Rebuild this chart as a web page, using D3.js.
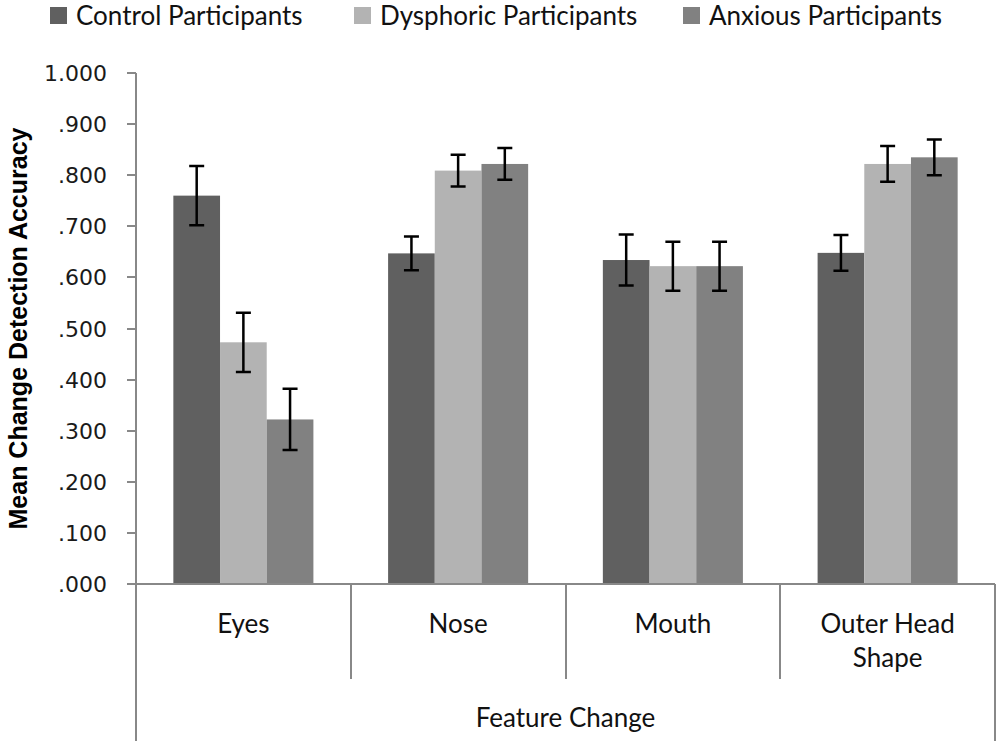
<!DOCTYPE html>
<html lang="en">
<head>
<meta charset="UTF-8">
<title>Mean Change Detection Accuracy</title>
<style>
  body { margin: 0; background: #fff; }
  .tick-label { font: 22px "DejaVu Sans", Verdana, sans-serif; fill: #1a1a1a; }
  .cat-label, .legend-label, .x-title { font: 26px Lato, "Open Sans", sans-serif; fill: #111; }
  .y-title { font: bold 25px "Liberation Sans", Arial, sans-serif; fill: #000; }
  .axis-line { stroke: #888; stroke-width: 2; fill: none; shape-rendering: crispEdges; }
  .err { stroke: #000; stroke-width: 2.5; fill: none; }
</style>
</head>
<body>
<script src="https://d3js.org/d3.v7.min.js"></script>
<script>
// data
var categories = ["Eyes", "Nose", "Mouth", "Outer Head Shape"];
var categoryLines = [["Eyes"], ["Nose"], ["Mouth"], ["Outer Head", "Shape"]];
var seriesNames = ["Control Participants", "Dysphoric Participants", "Anxious Participants"];
var control   = [0.760, 0.647, 0.634, 0.648];
var dysphoric = [0.473, 0.809, 0.622, 0.822];
var anxious   = [0.322, 0.822, 0.622, 0.835];
var controlErr   = [0.058, 0.033, 0.050, 0.035];
var dysphoricErr = [0.058, 0.031, 0.048, 0.035];
var anxiousErr   = [0.060, 0.031, 0.048, 0.035];
var yTicks = [0, 0.1, 0.2, 0.3, 0.4, 0.5, 0.6, 0.7, 0.8, 0.9, 1.0];
var colors = ["#606060", "#b3b3b3", "#818181"];
var xTitle = "Feature Change";
var yTitle = "Mean Change Detection Accuracy";

var values = [control, dysphoric, anxious];
var errs = [controlErr, dysphoricErr, anxiousErr];

var W = 1000, H = 741;
var plotLeft = 136, plotRight = 995, plotTop = 73, plotBottom = 584;

var svg = d3.select("body").append("svg")
  .attr("width", W)
  .attr("height", H);

var x0 = d3.scaleBand().domain(categories).range([plotLeft, plotRight]).padding(0);
var x1 = d3.scaleBand().domain(seriesNames).range([0, x0.bandwidth()])
  .paddingInner(0).paddingOuter(0.8);
var y = d3.scaleLinear().domain([0, 1]).range([plotBottom, plotTop]);

var fmt = function(v) { return d3.format(".3f")(v).replace(/^0/, ""); };

// bars
var groups = svg.selectAll(".grp")
  .data(categories)
  .enter().append("g")
  .attr("class", "grp")
  .attr("transform", function(d) { return "translate(" + x0(d) + ",0)"; });

groups.each(function(cat, ci) {
  var g = d3.select(this);
  seriesNames.forEach(function(s, si) {
    var v = values[si][ci];
    g.append("rect")
      .attr("x", x1(s))
      .attr("y", y(v))
      .attr("width", x1.bandwidth())
      .attr("height", y(0) - y(v))
      .attr("fill", colors[si]);
  });
  seriesNames.forEach(function(s, si) {
    var v = values[si][ci], e = errs[si][ci];
    var cx = x1(s) + x1.bandwidth() / 2;
    g.append("path")
      .attr("class", "err")
      .attr("d", "M" + cx + "," + y(v + e) + "V" + y(v - e)
        + "M" + (cx - 7.5) + "," + y(v + e) + "h15"
        + "M" + (cx - 7.5) + "," + y(v - e) + "h15");
  });
});

// y axis
svg.append("line").attr("class", "axis-line")
  .attr("x1", plotLeft).attr("x2", plotLeft).attr("y1", plotTop).attr("y2", H);
svg.selectAll(".ytick")
  .data(yTicks)
  .enter().append("line")
  .attr("class", "axis-line")
  .attr("x1", plotLeft - 9).attr("x2", plotLeft)
  .attr("y1", function(d) { return y(d); })
  .attr("y2", function(d) { return y(d); });
svg.selectAll(".tick-label")
  .data(yTicks)
  .enter().append("text")
  .attr("class", "tick-label")
  .attr("x", 107)
  .attr("y", function(d) { return y(d) + 8; })
  .attr("text-anchor", "end")
  .text(fmt);

// x axis with category dividers
svg.append("line").attr("class", "axis-line")
  .attr("x1", plotLeft - 9).attr("x2", plotRight).attr("y1", plotBottom).attr("y2", plotBottom);
svg.selectAll(".divider")
  .data(categories.slice(1))
  .enter().append("line")
  .attr("class", "axis-line")
  .attr("x1", function(d) { return x0(d); })
  .attr("x2", function(d) { return x0(d); })
  .attr("y1", plotBottom).attr("y2", 679);
svg.append("line").attr("class", "axis-line")
  .attr("x1", plotRight).attr("x2", plotRight).attr("y1", plotBottom).attr("y2", H);

var labels = svg.selectAll(".cat-label")
  .data(categories)
  .enter().append("text")
  .attr("class", "cat-label")
  .attr("text-anchor", "middle")
  .attr("transform", function(d) { return "translate(" + (x0(d) + x0.bandwidth() / 2) + ",633)"; });
labels.each(function(d, i) {
  var t = d3.select(this);
  categoryLines[i].forEach(function(line, li) {
    t.append("tspan").attr("x", 0).attr("y", li * 34).text(line);
  });
});

svg.append("text")
  .attr("class", "x-title")
  .attr("x", (plotLeft + plotRight) / 2)
  .attr("y", 727)
  .attr("text-anchor", "middle")
  .text(xTitle);

svg.append("text")
  .attr("class", "y-title")
  .attr("transform", "translate(27," + ((plotTop + plotBottom) / 2) + ") rotate(-90)")
  .attr("text-anchor", "middle")
  .text(yTitle);

// legend
var legendX = [50, 354, 683];
var legend = svg.selectAll(".legend")
  .data(seriesNames)
  .enter().append("g")
  .attr("transform", function(d, i) { return "translate(" + legendX[i] + ",0)"; });
legend.append("rect")
  .attr("x", 0).attr("y", 7)
  .attr("width", 17).attr("height", 17)
  .attr("fill", function(d, i) { return colors[i]; });
legend.append("text")
  .attr("class", "legend-label")
  .attr("x", 26).attr("y", 25)
  .text(function(d) { return d; });
</script>
</body>
</html>
